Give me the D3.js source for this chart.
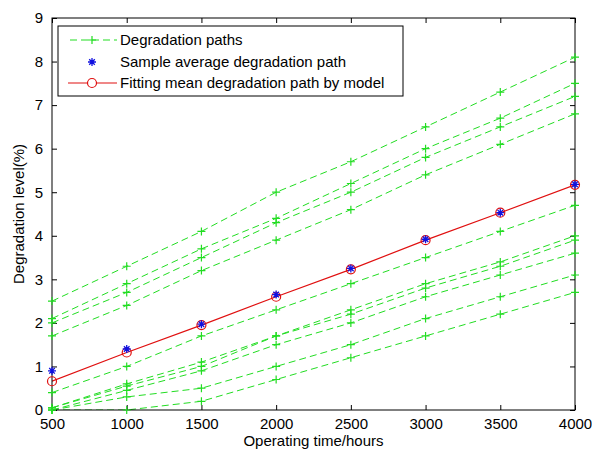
<!DOCTYPE html>
<html><head><meta charset="utf-8">
<script src="https://cdn.jsdelivr.net/npm/d3@7"></script>
<style>body{margin:0;background:#fff}svg{display:block}text{font-family:"Liberation Sans",Arial,sans-serif}</style>
</head><body><svg id="c" width="592" height="450"></svg>
<script>
const times = [500, 1000, 1500, 2000, 2500, 3000, 3500, 4000];
const pathA = [2.5, 3.3, 4.1, 5.0, 5.7, 6.5, 7.3, 8.1];
const pathB = [2.1, 2.9, 3.7, 4.4, 5.2, 6.0, 6.7, 7.5];
const pathC = [2.0, 2.7, 3.5, 4.3, 5.0, 5.8, 6.5, 7.2];
const pathD = [1.7, 2.4, 3.2, 3.9, 4.6, 5.4, 6.1, 6.8];
const pathE = [0.4, 1.0, 1.7, 2.3, 2.9, 3.5, 4.1, 4.7];
const pathF = [0.05, 0.6, 1.1, 1.7, 2.3, 2.9, 3.4, 4.0];
const pathG = [0.05, 0.55, 1.0, 1.7, 2.2, 2.8, 3.3, 3.9];
const pathH = [0.0, 0.45, 0.9, 1.5, 2.0, 2.6, 3.1, 3.6];
const pathI = [0.0, 0.3, 0.5, 1.0, 1.5, 2.1, 2.6, 3.1];
const pathJ = [0.0, 0.0, 0.2, 0.7, 1.2, 1.7, 2.2, 2.7];
const paths = [pathA, pathB, pathC, pathD, pathE, pathF, pathG, pathH, pathI, pathJ];
const sampleMean = [0.9, 1.4, 1.97, 2.65, 3.25, 3.92, 4.53, 5.18];
const fittedMean = [0.66, 1.32, 1.95, 2.6, 3.23, 3.9, 4.53, 5.17];
const xTicks = [500, 1000, 1500, 2000, 2500, 3000, 3500, 4000];
const yTicks = [0, 1, 2, 3, 4, 5, 6, 7, 8, 9];
const legendLabels = ["Degradation paths", "Sample average degradation path", "Fitting mean degradation path by model"];

const svg = d3.select("#c");
const L = 52, R = 575, T = 18, B = 410;
const FS = 15;
const x = d3.scaleLinear().domain([500, 4000]).range([L, R]);
const y = d3.scaleLinear().domain([0, 9]).range([B, T]);
const green = "#22dd22", red = "#e01010", blue = "#1010e0";

svg.append("defs").append("clipPath").attr("id", "clip")
  .append("rect").attr("x", L).attr("y", T).attr("width", R - L).attr("height", B - T);

const g = svg.append("g").attr("clip-path", "url(#clip)");
const gm = svg.append("g");
const line = d3.line().x((d, i) => x(times[i])).y(d => y(d));

paths.forEach(p => {
  g.append("path").attr("d", line(p)).attr("fill", "none").attr("stroke", green)
    .attr("stroke-width", 1).attr("stroke-dasharray", "7,4");
});

g.append("path").attr("d", line(fittedMean)).attr("fill", "none").attr("stroke", red).attr("stroke-width", 1.2);

// axes box
svg.append("rect").attr("x", L).attr("y", T).attr("width", R - L).attr("height", B - T)
  .attr("fill", "none").attr("stroke", "#000").attr("stroke-width", 1);

const axB = d3.axisBottom(x).tickValues(xTicks).tickSize(-5).tickPadding(8).tickFormat(d3.format("d"));
const axT = d3.axisTop(x).tickValues(xTicks).tickSize(-5).tickFormat("");
const axLft = d3.axisLeft(y).tickValues(yTicks).tickSize(-5).tickPadding(9);
const axRt = d3.axisRight(y).tickValues(yTicks).tickSize(-5).tickFormat("");
function style(a) {
  a.select(".domain").remove();
  a.selectAll("line").attr("stroke", "#000");
  a.selectAll("text").attr("font-size", FS).attr("fill", "#000");
}
svg.append("g").attr("transform", `translate(0,${B})`).call(axB).call(style);
svg.append("g").attr("transform", `translate(0,${T})`).call(axT).call(style);
svg.append("g").attr("transform", `translate(${L},0)`).call(axLft).call(style);
svg.append("g").attr("transform", `translate(${R},0)`).call(axRt).call(style);

// markers (not clipped, drawn over axes like MATLAB)
const mk = svg.append("g");
paths.forEach(p => {
  p.forEach((v, i) => {
    const cx = x(times[i]), cy = y(v);
    mk.append("path").attr("d", `M${cx-4},${cy}H${cx+4}M${cx},${cy-4}V${cy+4}`)
      .attr("stroke", green).attr("stroke-width", 1.2);
  });
});
fittedMean.forEach((v, i) => {
  mk.append("circle").attr("cx", x(times[i])).attr("cy", y(v)).attr("r", 4.5)
    .attr("fill", "none").attr("stroke", red).attr("stroke-width", 1.2);
});
function star(sel, cx, cy, s) {
  const a = s * 0.7;
  sel.append("path").attr("d", `M${cx-s},${cy}H${cx+s}M${cx},${cy-s}V${cy+s}M${cx-a},${cy-a}L${cx+a},${cy+a}M${cx-a},${cy+a}L${cx+a},${cy-a}`)
    .attr("stroke", blue).attr("stroke-width", 1.3);
}
sampleMean.forEach((v, i) => star(mk, x(times[i]), y(v), 4));

svg.append("text").attr("x", (L + R) / 2).attr("y", 446).attr("text-anchor", "middle")
  .attr("font-size", FS).text("Operating time/hours");
svg.append("text").attr("transform", `translate(24,${(T + B) / 2}) rotate(-90)`).attr("text-anchor", "middle")
  .attr("font-size", FS).text("Degradation level(%)");

// legend
const lg = svg.append("g");
lg.append("rect").attr("x", 58).attr("y", 26).attr("width", 345).attr("height", 70)
  .attr("fill", "#fff").attr("stroke", "#000").attr("stroke-width", 1);
const rows = [40, 62, 83];
lg.append("line").attr("x1", 70).attr("x2", 117).attr("y1", rows[0]).attr("y2", rows[0])
  .attr("stroke", green).attr("stroke-dasharray", "7,4");
lg.append("path").attr("d", `M88,${rows[0]}H96M92,${rows[0]-4}V${rows[0]+4}`).attr("stroke", green).attr("stroke-width", 1.2);
star(lg, 92, rows[1], 4);
lg.append("line").attr("x1", 68).attr("x2", 117).attr("y1", rows[2]).attr("y2", rows[2]).attr("stroke", red).attr("stroke-width", 1.2);
lg.append("circle").attr("cx", 92).attr("cy", rows[2]).attr("r", 4.5).attr("fill", "#fff").attr("stroke", red).attr("stroke-width", 1.2);
legendLabels.forEach((t, i) => {
  lg.append("text").attr("x", 120).attr("y", rows[i] + 5).attr("font-size", FS).text(t);
});
</script></body></html>
